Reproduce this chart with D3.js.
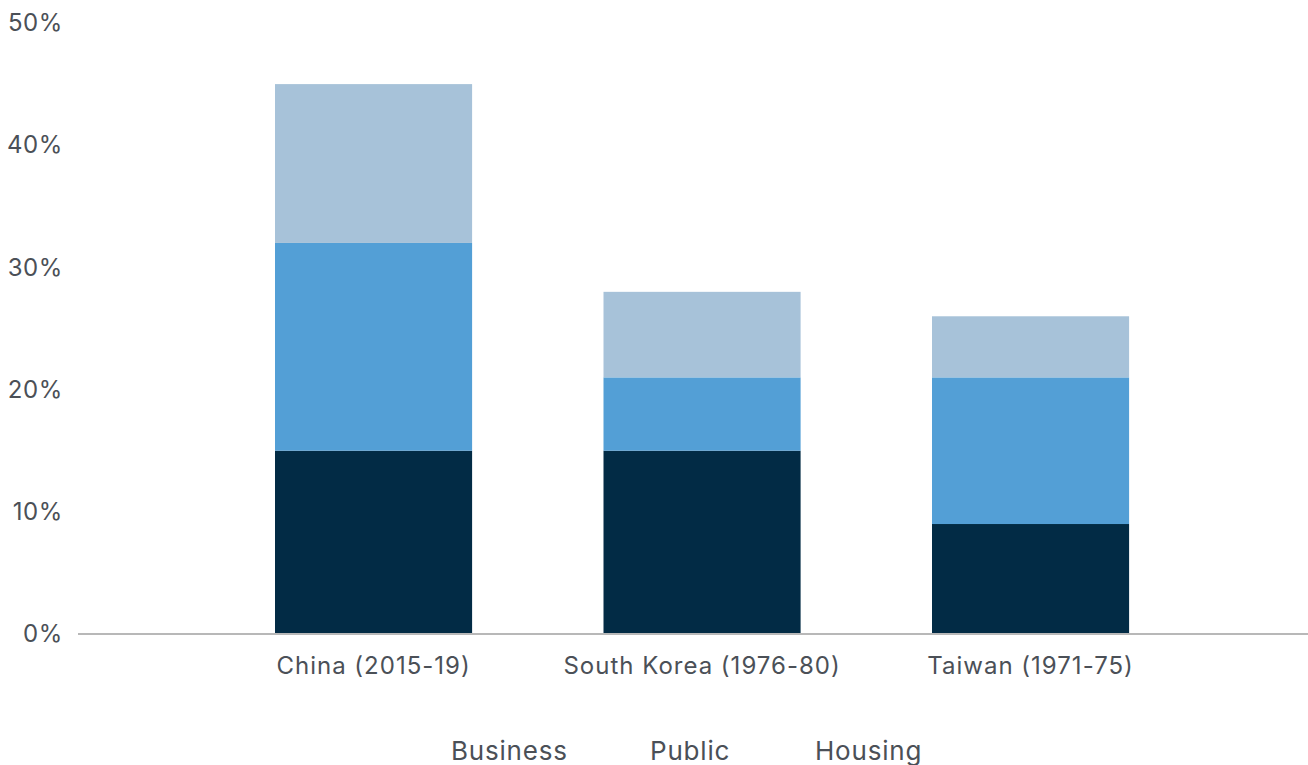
<!DOCTYPE html>
<html><head><meta charset="utf-8">
<script src="https://cdn.jsdelivr.net/npm/d3@7"></script>
<style>body{margin:0;background:#fff}svg{display:block}</style>
</head><body><svg id="c" width="1308" height="765"></svg>
<script>
const categories = ["China (2015-19)", "South Korea (1976-80)", "Taiwan (1971-75)"];
const seriesNames = ["Business", "Public", "Housing"];
const business = [15, 15, 9];
const publicInv = [17, 6, 12];
const housing = [13, 7, 5];
const yTicks = [0, 10, 20, 30, 40, 50];
const colors = ["#022b45", "#539fd6", "#a7c2d9"];

const svg = d3.select("#c");
const rows = categories.map((c, i) => ({cat: c, Business: business[i], Public: publicInv[i], Housing: housing[i]}));
const stack = d3.stack().keys(seriesNames)(rows);

const y = d3.scaleLinear().domain([0, 50]).range([634, 23]);
const x = d3.scaleBand().domain(categories).range([143.6, 1260.5]).paddingInner(0.4).paddingOuter(0.4);

const textColor = "#4b5057";
const axisFont = "Inter, 'Open Sans', sans-serif";

stack.forEach((s, k) => {
  svg.append("g").attr("fill", colors[k]).selectAll("rect").data(s).join("rect")
    .attr("x", d => x(d.data.cat)).attr("width", x.bandwidth())
    .attr("y", d => y(d[1])).attr("height", d => y(d[0]) - y(d[1]));
});

// y axis labels
const yAxis = svg.append("g").attr("transform", "translate(63,0)")
  .call(d3.axisLeft(y).tickValues(yTicks).tickFormat(d => d + "%").tickSize(0).tickPadding(0));
yAxis.select(".domain").remove();
yAxis.selectAll("text").attr("fill", textColor).style("font-family", axisFont).style("font-size", "24px")
  .style("letter-spacing", "0.6px");

// baseline
svg.append("line").attr("x1", 78).attr("x2", 1308).attr("y1", y(0)).attr("y2", y(0))
  .attr("stroke", "#b8b8b8").attr("stroke-width", 2);

// x axis labels
const xAxis = svg.append("g").attr("transform", `translate(0,${y(0)})`)
  .call(d3.axisBottom(x).tickSize(0).tickPadding(23));
xAxis.select(".domain").remove();
xAxis.selectAll("text").attr("fill", textColor).style("font-family", axisFont).style("font-size", "24px")
  .style("letter-spacing", "1px");

// legend (text only)
const legendX = [451, 650, 815];
svg.append("g").selectAll("text").data(seriesNames).join("text")
  .attr("x", (d, i) => legendX[i]).attr("y", 760)
  .attr("fill", textColor).style("font-family", axisFont).style("font-size", "26px")
  .style("letter-spacing", "0.8px")
  .text(d => d);
</script></body></html>
